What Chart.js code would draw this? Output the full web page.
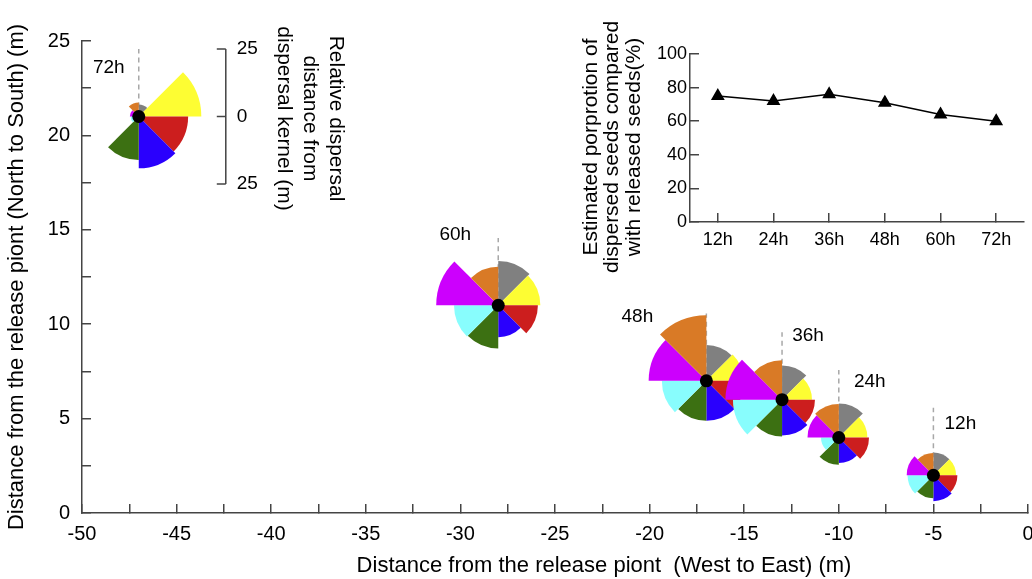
<!DOCTYPE html>
<html>
<head>
<meta charset="utf-8">
<script src="https://cdn.jsdelivr.net/npm/chart.js@4.4.1/dist/chart.umd.min.js"></script>
<style>
  html, body { margin: 0; padding: 0; background: #fff; overflow: hidden; }
  #wrap { position: relative; width: 1032px; height: 579px; overflow: hidden; }
  #main { position: absolute; left: 0; top: 0; }
  #inset { position: absolute; left: 575px; top: 20px; }
</style>
</head>
<body>
<div id="wrap">
  <canvas id="main" width="1040" height="579"></canvas>
  <canvas id="inset" width="457" height="262"></canvas>
</div>
<script>
// Release times and where the dispersal kernel is centred (m)
const hours = ['72h', '60h', '48h', '36h', '24h', '12h'];
const centerX = [-47, -28, -17, -13, -10, -5];
const centerY = [21, 11, 7, 6, 4, 2];

// Relative dispersal distance (m) per 45° sector, clockwise from north
const kernel72h = [4.5, 23.2, 18.3, 19.2, 16.1, 3.0, 3.3, 5.2];
const kernel60h = [16.4, 15.6, 14.7, 11.8, 16.0, 16.4, 23.0, 14.3];
const kernel48h = [13.3, 13.8, 14.4, 14.8, 14.8, 16.5, 21.4, 24.3];
const kernel36h = [12.7, 11.1, 12.2, 13.3, 13.6, 18.2, 21.0, 14.6];
const kernel24h = [12.6, 10.6, 11.2, 9.5, 10.1, 6.6, 11.6, 12.4];
const kernel12h = [8.4, 8.4, 8.9, 9.6, 8.5, 9.6, 9.9, 8.2];
const kernels = [kernel72h, kernel60h, kernel48h, kernel36h, kernel24h, kernel12h];

// Inset: proportion of dispersed seeds
const insetLabels = ['12h', '24h', '36h', '48h', '60h', '72h'];
const insetValues = [75, 72, 76, 71, 64, 60];
const insetTitle = ['Estimated porprotion of', 'dispersed seeds compared', 'with released seeds(%)'];

// Layout / style
const KERNEL_SCALE = 1 / 7;          // 1 m of relative distance drawn as 1/7 m of map
const SECTOR_COLORS = ['#808080', '#fdfd33', '#cc1e1e', '#2a00fd', '#3c7012', '#88fdfd', '#cc00fd', '#d97a26'];
const LABEL_OFFSETS = [[-30, -49], [-43, -71], [-69, -64], [26, -64], [31, -56], [27, -51]];
const BAR_AT = [-42.4, 21];          // where the kernel scale bar sits (data units)
const FONT = '"Liberation Sans", Arial, sans-serif';
const AXIS_COLOR = '#444';

Chart.defaults.font.family = FONT;
Chart.defaults.color = '#000';

const rosePlugin = {
  id: 'roses',
  beforeDatasetsDraw(chart) {
    const { ctx, scales: { x, y } } = chart;
    const unit = Math.abs(y.getPixelForValue(KERNEL_SCALE) - y.getPixelForValue(0));
    kernels.forEach((k, i) => {
      const cx = x.getPixelForValue(centerX[i]);
      const cy = y.getPixelForValue(centerY[i]);
      ctx.save();
      ctx.strokeStyle = '#a8a8a8';
      ctx.lineWidth = 1.5;
      ctx.setLineDash([5, 4]);
      ctx.beginPath();
      ctx.moveTo(cx, cy);
      ctx.lineTo(cx, cy - 25 * unit);
      ctx.stroke();
      ctx.restore();
      k.forEach((r, j) => {
        const a0 = -Math.PI / 2 + j * Math.PI / 4;
        ctx.beginPath();
        ctx.moveTo(cx, cy);
        ctx.arc(cx, cy, r * unit, a0, a0 + Math.PI / 4);
        ctx.closePath();
        ctx.fillStyle = SECTOR_COLORS[j];
        ctx.fill();
      });
    });
  },
  afterDatasetsDraw(chart) {
    const { ctx, chartArea, scales: { x, y } } = chart;
    const unit = Math.abs(y.getPixelForValue(KERNEL_SCALE) - y.getPixelForValue(0));
    ctx.save();
    ctx.fillStyle = '#000';
    ctx.font = '19px ' + FONT;
    ctx.textAlign = 'center';
    ctx.textBaseline = 'middle';
    hours.forEach((h, i) => {
      const cx = x.getPixelForValue(centerX[i]);
      const cy = y.getPixelForValue(centerY[i]);
      ctx.fillText(h, cx + LABEL_OFFSETS[i][0], cy + LABEL_OFFSETS[i][1]);
    });

    // kernel scale bar
    const bx = x.getPixelForValue(BAR_AT[0]);
    const by = y.getPixelForValue(BAR_AT[1]);
    const half = 25 * unit;
    ctx.strokeStyle = AXIS_COLOR;
    ctx.lineWidth = 1.5;
    ctx.beginPath();
    ctx.moveTo(bx, by - half);
    ctx.lineTo(bx, by + half);
    [-half, 0, half].forEach(d => {
      ctx.moveTo(bx - 9, by + d);
      ctx.lineTo(bx, by + d);
    });
    ctx.stroke();
    ctx.textAlign = 'left';
    ctx.font = '19px ' + FONT;
    ctx.fillText('25', bx + 11, by - half);
    ctx.fillText('0', bx + 11, by);
    ctx.fillText('25', bx + 11, by + half);
    ctx.font = '21px ' + FONT;
    ctx.textAlign = 'center';
    ['Relative dispersal', 'distance from', 'dispersal kernel (m)'].forEach((line, i) => {
      ctx.save();
      ctx.translate(bx + 110 - i * 26, by + 2);
      ctx.rotate(Math.PI / 2);
      ctx.fillText(line, 0, 0);
      ctx.restore();
    });

    // x axis title
    ctx.font = '22px ' + FONT;
    ctx.textBaseline = 'alphabetic';
    ctx.fillText('Distance from the release piont  (West to East) (m)',
      (chartArea.left + chartArea.right) / 2 + 49, 572);
    ctx.restore();
  }
};

const insetTitlePlugin = {
  id: 'insetTitle',
  afterDraw(chart) {
    const { ctx, chartArea } = chart;
    const cy = (chartArea.top + chartArea.bottom) / 2 + 9;
    ctx.save();
    ctx.fillStyle = '#000';
    ctx.font = '21px ' + FONT;
    ctx.textAlign = 'center';
    ctx.textBaseline = 'middle';
    insetTitle.forEach((line, i) => {
      ctx.save();
      ctx.translate(16 + i * 21.5, cy);
      ctx.rotate(-Math.PI / 2);
      ctx.fillText(line, 0, 0);
      ctx.restore();
    });
    ctx.restore();
  }
};

const axisGrid = { drawOnChartArea: false, drawTicks: true, tickLength: -9, color: AXIS_COLOR, lineWidth: 1.5 };
const axisBorder = { display: true, color: AXIS_COLOR, width: 1.5 };
const noEdgePadding = s => { s.paddingLeft = 0; s.paddingRight = 0; s.paddingTop = 0; s.paddingBottom = 0; };

new Chart(document.getElementById('main'), {
  type: 'scatter',
  data: {
    datasets: [{
      data: centerX.map((v, i) => ({ x: v, y: centerY[i] })),
      pointRadius: 6.5,
      pointBackgroundColor: '#000',
      pointBorderColor: '#000',
      pointBorderWidth: 0
    }]
  },
  options: {
    responsive: false,
    animation: false,
    layout: { padding: { top: 41, right: 12, left: 0, bottom: 0 } },
    plugins: { legend: { display: false }, tooltip: { enabled: false } },
    scales: {
      x: {
        type: 'linear', min: -50, max: 0,
        border: axisBorder,
        grid: axisGrid,
        ticks: {
          stepSize: 2.5, padding: 18, maxRotation: 0, autoSkip: false,
          font: { size: 20 },
          callback: v => (v % 5 === 0 ? v : '')
        },
        afterFit: s => { noEdgePadding(s); s.height = 66; }
      },
      y: {
        type: 'linear', min: 0, max: 25,
        border: axisBorder,
        grid: axisGrid,
        ticks: {
          stepSize: 2.5, padding: 21, autoSkip: false,
          font: { size: 20 },
          callback: v => (v % 5 === 0 ? v : '')
        },
        title: {
          display: true,
          text: 'Distance from the release piont (North to South) (m)',
          font: { size: 22 },
          padding: { top: 4, bottom: 0 }
        },
        afterFit: s => { noEdgePadding(s); s.width = 82; }
      }
    }
  },
  plugins: [rosePlugin]
});

new Chart(document.getElementById('inset'), {
  type: 'line',
  data: {
    labels: insetLabels,
    datasets: [{
      data: insetValues,
      borderColor: '#000',
      borderWidth: 1.5,
      pointStyle: 'triangle',
      pointRadius: 6.5,
      pointBackgroundColor: '#000',
      pointBorderColor: '#000',
      tension: 0
    }]
  },
  options: {
    responsive: false,
    animation: false,
    layout: { padding: { top: 34, right: 3, left: 0, bottom: 0 } },
    plugins: { legend: { display: false }, tooltip: { enabled: false } },
    scales: {
      x: {
        offset: true,
        border: axisBorder,
        grid: { ...axisGrid, offset: false },
        ticks: { padding: 16, font: { size: 18 }, maxRotation: 0 },
        afterFit: s => { noEdgePadding(s); s.height = 60; }
      },
      y: {
        min: 0, max: 100,
        border: axisBorder,
        grid: axisGrid,
        ticks: { stepSize: 20, padding: 12, font: { size: 18 } },
        afterFit: s => { noEdgePadding(s); s.width = 115; }
      }
    }
  },
  plugins: [insetTitlePlugin]
});
</script>
</body>
</html>
